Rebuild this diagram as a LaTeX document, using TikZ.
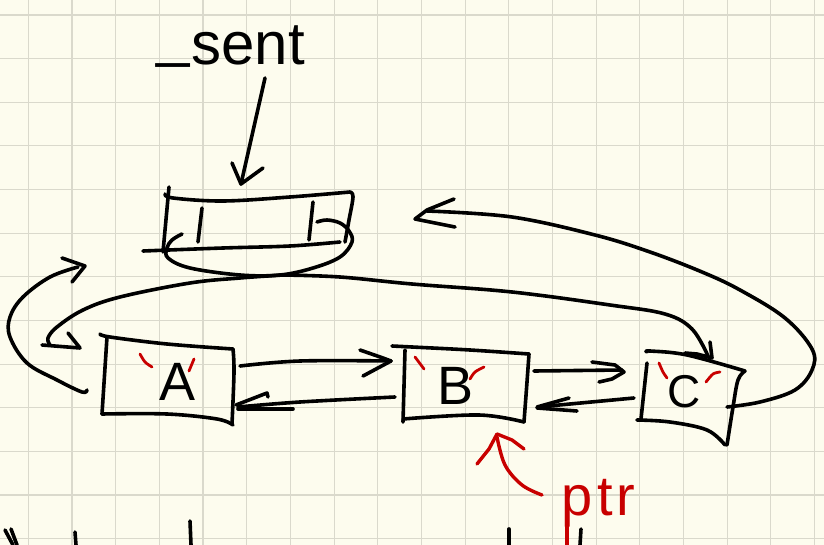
\documentclass[tikz,border=0pt]{standalone}
\usepackage{fontspec}
\setmainfont{Liberation Sans}
\usetikzlibrary{calc}
\definecolor{paper}{RGB}{253,252,238}
\definecolor{gridc}{RGB}{218,217,204}
\definecolor{inkred}{RGB}{200,0,0}
\begin{document}
\begin{tikzpicture}[x=1pt,y=-1pt,
  pen/.style={line width=3.6pt, line cap=round, line join=round, black},
  redpen/.style={line width=3.4pt, line cap=round, line join=round, inkred},
  quotemark/.style={line width=2.8pt, line cap=round, inkred},
  gridline/.style={gridc, line width=1.1pt},
  letter/.style={inner sep=0pt, font=\fontsize{54}{54}\selectfont}]
\useasboundingbox (0,0) rectangle (824,545);
\fill[paper] (0,0) rectangle (824,545);
\foreach \i in {0,...,18} \draw[gridline] ({28.3+43.68*\i},0) -- ({28.3+43.68*\i},545);
\foreach \j in {0,...,12} \draw[gridline] (0,{15+43.64*\j}) -- (824,{15+43.64*\j});

% ---------- texts ----------
\node[font=\fontsize{60}{60}\selectfont, inner sep=0pt, anchor=base west] (sent) at (156,65) {\raisebox{9pt}{\_}\kern2pt sent};
\node[letter] (A) at (178,382) {A};
\node[letter] (B) at (456,386) {B};
\node[letter, font=\fontsize{46}{46}\selectfont] (C) at (684,392) {C};
\node[text=inkred, font=\fontsize{56}{56}\selectfont, inner sep=0pt, anchor=base west] (ptr) at (561,515) {p\kern5pt t\kern4pt r};

% ---------- sentinel box ----------
\draw[pen] plot[smooth, tension=0.6] coordinates {(165,194) (173,198) (223,201) (290,197) (350,192)};
\draw[pen] plot[smooth, tension=0.6] coordinates {(350,192) (353,197) (349,220) (345,242)};
\draw[pen] (169,187) -- (163,252);
\draw[pen] plot[smooth, tension=0.6] coordinates {(143,251) (223,248) (290,246) (340,242)};
\draw[pen] (202,208) -- (198,242);
\draw[pen] (313,202) -- (309,240);
% self loop under the sentinel
\draw[pen] plot[smooth, tension=0.6] coordinates {(317,222) (327,220) (340,223) (349,231) (352,242) (340,257) (313,268) (280,275) (240,275) (190,268) (168,258) (167,248) (172,240) (182,234)};
\coordinate (lp) at (283,275);

% ---------- A box ----------
\draw[pen] plot[smooth, tension=0.6] coordinates {(100,334) (110,337) (167,344) (233,349)};
\draw[pen] plot[smooth, tension=0.6] coordinates {(233,349) (234,372) (232,424)};
\draw[pen] (107,337) -- (102,414);
\draw[pen] plot[smooth, tension=0.6] coordinates {(102,414) (167,414) (217,419) (233,425)};

% ---------- B box ----------
\draw[pen] plot[smooth, tension=0.6] coordinates {(392,346) (412,347) (470,350) (529,354)};
\draw[pen] plot[smooth, tension=0.6] coordinates {(529,354) (527,382) (524,422)};
\draw[pen] (405,350) -- (403,422);
\draw[pen] plot[smooth, tension=0.6] coordinates {(403,419) (479,415) (524,422)};

% ---------- C box ----------
\draw[pen] plot[smooth, tension=0.6] coordinates {(647,352) (650,351) (687,355) (745,371)};
\draw[pen] plot[smooth, tension=0.6] coordinates {(745,371) (738,380) (733,407) (727,445)};
\draw[pen] (647,363) -- (641,419);
\draw[pen] plot[smooth, tension=0.6] coordinates {(637,420) (670,422) (707,430) (725,445)};

% ---------- red quote marks ----------
\draw[quotemark] plot[smooth] coordinates {(140,354) (145,362) (152,367)};
\draw[quotemark] (194,359) -- (189,371);
\draw[quotemark] (415,357) -- (424,369);
\draw[quotemark] plot[smooth] coordinates {(470,379) (475,372) (484,367)};
\draw[quotemark] plot[smooth] coordinates {(659,363) (663,372) (667,378)};
\draw[quotemark] plot[smooth] coordinates {(706,382) (713,374) (720,372)};

% ---------- connectors ----------
% _sent -> sentinel
\coordinate (s1) at (265,78);
\coordinate (s2) at (241,184);
\draw[pen] (s1) -- (s2);
\draw[pen] ([shift={(-9,-21)}]s2) -- (s2) -- ([shift={(22,-16)}]s2);

% sentinel -> A
\coordinate (tA) at (80,348);
\draw[pen] plot[smooth, tension=0.6] coordinates {(lp) (240,278) (190,283) (120,297) (83,310) (57,327) (48,338) (50,345)};
\draw[pen] ([shift={(-38,-3)}]tA) -- (tA) -- ([shift={(-12,-15)}]tA);

% sentinel -> C
\coordinate (tC) at (712,358);
\draw[pen] plot[smooth, tension=0.6] coordinates {(lp) (340,277) (412,284) (512,292) (610,305) (665,314) (692,329) (708,356)};
\draw[pen] ([shift={(-27,-5)}]tC) -- ([shift={(-15,-4)}]tC) -- (tC) -- ([shift={(-2,-16)}]tC);

% A -> sentinel (prev)
\coordinate (tS1) at (85,266);
\draw[pen] plot[smooth, tension=0.6] coordinates {(87,390) (82,392) (57,380) (27,363) (10,337) (10,317) (23,297) (50,277) (78,267)};
\draw[pen] ([shift={(-23,-8)}]tS1) -- (tS1) -- ([shift={(-13,16)}]tS1);

% C -> sentinel (next)
\coordinate (tS2) at (415,219);
\draw[pen] plot[smooth, tension=0.6] coordinates {(727,407) (760,402) (795,390) (812,370) (812,349) (785,318) (740,290) (702,272) (650,252) (595,235) (512,217) (427,211)};
\draw[pen] ([shift={(39,-20)}]tS2) -- ([shift={(12,-9)}]tS2) -- (tS2) -- ([shift={(40,8)}]tS2);

% A -> B
\coordinate (tB1) at (391,361);
\draw[pen] plot[smooth, tension=0.6] coordinates {(240,366) (300,361) (391,361)};
\draw[pen] ([shift={(-31,-11)}]tB1) -- ([shift={(-8,-3)}]tB1) -- (tB1) -- ([shift={(-28,15)}]tB1);

% B -> A
\coordinate (tA2) at (236,405);
\draw[pen] plot[smooth, tension=0.6] coordinates {(395,397) (300,402) (238,407)};
\draw[pen] (tA2) -- ([shift={(31,-12)}]tA2) -- ([shift={(32,-8)}]tA2);
\draw[pen] ([shift={(2,4)}]tA2) -- ([shift={(57,4)}]tA2);

% B -> C
\coordinate (tC2) at (624,372);
\draw[pen] (534,371) -- (622,370);
\draw[pen] ([shift={(-32,-10)}]tC2) -- ([shift={(-9,-7)}]tC2) -- (tC2) -- ([shift={(-12,7)}]tC2) -- ([shift={(-25,10)}]tC2);

% C -> B
\coordinate (tB2) at (537,407);
\draw[pen] (634,398) -- (538,407);
\draw[pen] (tB2) -- ([shift={(32,-9)}]tB2);
\draw[pen] ([shift={(0,1)}]tB2) -- ([shift={(40,4)}]tB2);

% ptr -> B
\coordinate (tP) at (497,434);
\draw[redpen] plot[smooth, tension=0.6] coordinates {(542,495) (522,485) (505,465) (497,437)};
\draw[redpen] ([shift={(-20,30)}]tP) -- ([shift={(-8,15)}]tP) -- (tP) -- ([shift={(15,6)}]tP) -- ([shift={(27,15)}]tP);

% ---------- cut-off strokes of the next line ----------
\draw[pen] (5,530) -- (13,545);
\draw[pen] (11,529) -- (17,545);
\draw[pen] (75,532) -- (76,545);
\draw[pen] (190,521) -- (191,545);
\draw[pen] (509,529) -- (509,545);
\draw[pen] (581,529) -- (580,545);
\draw[redpen] (567,525) -- (567,545);
\end{tikzpicture}
\end{document}
